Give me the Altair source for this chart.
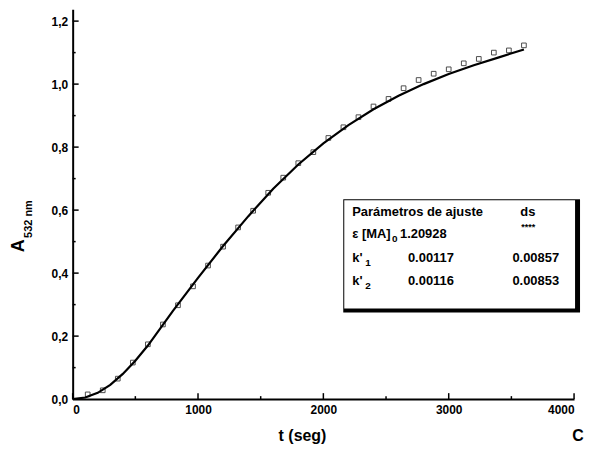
import altair as alt
import pandas as pd

# observed absorbance (squares)
t_obs = [120, 240, 360, 480, 600, 720, 840, 960, 1080, 1200, 1320, 1440, 1560, 1680, 1800,
         1920, 2040, 2160, 2280, 2400, 2520, 2640, 2760, 2880, 3000, 3120, 3240, 3360, 3480, 3600]
A_obs = [0.015, 0.028, 0.065, 0.116, 0.174, 0.237, 0.298, 0.358, 0.424, 0.484, 0.545, 0.598,
         0.655, 0.703, 0.749, 0.784, 0.829, 0.863, 0.895, 0.929, 0.953, 0.987, 1.013, 1.033,
         1.047, 1.066, 1.080, 1.100, 1.107, 1.123]

# fitted curve
t_fit = [0, 100, 200, 300, 400, 500, 600, 800, 1000, 1200, 1400, 1600, 1800, 2000, 2200,
         2400, 2600, 2800, 3000, 3200, 3400, 3600]
A_fit = [0.0, 0.005, 0.02, 0.045, 0.08, 0.122, 0.170, 0.28, 0.385, 0.486, 0.58, 0.668, 0.745,
         0.812, 0.87, 0.92, 0.963, 1.0, 1.032, 1.06, 1.085, 1.11]

y_major = [0.0, 0.2, 0.4, 0.6, 0.8, 1.0, 1.2]
y_minor = [0.1, 0.3, 0.5, 0.7, 0.9, 1.1]
x_major = [0, 1000, 2000, 3000, 4000]
x_minor = [500, 1500, 2500, 3500]

leg_col1 = ["Parámetros de ajuste", "ε [MA]", "k'", "k'"]
leg_sub1 = ["", "0", "1", "2"]
leg_col2 = ["", "1.20928", "0.00117", "0.00116"]
leg_col3 = ["ds", "", "0.00857", "0.00853"]
leg_stars = "****"

FONT = "Liberation Sans, Arial, sans-serif"

W, H = 504, 392
xs = alt.Scale(domain=[0, 4000], nice=False)
ys = alt.Scale(domain=[0, 1.238], nice=False)

fit_df = pd.DataFrame({"t": t_fit, "A": A_fit})
obs_df = pd.DataFrame({"t": t_obs, "A": A_obs})

line = alt.Chart(fit_df).mark_line(color="black", strokeWidth=2.2).encode(
    x=alt.X("t:Q", scale=xs,
            axis=alt.Axis(values=x_major, format="d", title=None, ticks=False, labelPadding=5,
                          labelFont=FONT, labelFontWeight="bold", labelFontSize=12,
                          labelColor="black", domainColor="black", domainWidth=2,
                          grid=False)),
    y=alt.Y("A:Q", scale=ys,
            axis=alt.Axis(values=y_major, title=None, ticks=False, labelPadding=5,
                          labelExpr="replace(format(datum.value, '.1f'), '.', ',')",
                          labelFont=FONT, labelFontWeight="bold", labelFontSize=12,
                          labelColor="black", domainColor="black", domainWidth=2,
                          grid=False)),
)

pts = alt.Chart(obs_df).mark_point(shape="square", filled=False, color="black",
                                   size=22, strokeWidth=1).encode(
    x=alt.X("t:Q", scale=xs), y=alt.Y("A:Q", scale=ys))

ytm = alt.Chart(pd.DataFrame({"v": y_major})).mark_rule(color="black", strokeWidth=1.5).encode(
    y=alt.Y("v:Q", scale=ys), x=alt.value(0), x2=alt.value(6))
ytn = alt.Chart(pd.DataFrame({"v": y_minor})).mark_rule(color="black", strokeWidth=1.5).encode(
    y=alt.Y("v:Q", scale=ys), x=alt.value(0), x2=alt.value(3))
xtm = alt.Chart(pd.DataFrame({"v": x_major})).mark_rule(color="black", strokeWidth=1.5).encode(
    x=alt.X("v:Q", scale=xs), y=alt.value(H), y2=alt.value(H - 6))
xtn = alt.Chart(pd.DataFrame({"v": x_minor})).mark_rule(color="black", strokeWidth=1.5).encode(
    x=alt.X("v:Q", scale=xs), y=alt.value(H), y2=alt.value(H - 3))

# legend box with shadow
shadow = alt.Chart(pd.DataFrame({"a": [0]})).mark_rect(color="black").encode(
    x=alt.value(272), x2=alt.value(510), y=alt.value(191), y2=alt.value(305))
box = alt.Chart(pd.DataFrame({"a": [0]})).mark_rect(color="white").encode(
    x=alt.value(273), x2=alt.value(505), y=alt.value(192), y2=alt.value(301))

row_y = [204, 226, 250, 273]
leg_df = pd.DataFrame({"c1": leg_col1, "c2": leg_col2, "c3": leg_col3,
                       "y": row_y,
                       "x2": [0, 329, 337, 337],
                       "x3": [450, 0, 442, 442]})

t1 = alt.Chart(leg_df).mark_text(font=FONT, fontWeight="bold", fontSize=13, align="left",
                                 baseline="middle", color="black").encode(
    text="c1:N", x=alt.value(281), y=alt.Y("y:Q", scale=None))
c2 = alt.Chart(leg_df).mark_text(font=FONT, fontWeight="bold", fontSize=13, align="left",
                                 baseline="middle", color="black").encode(
    text="c2:N", x=alt.X("x2:Q", scale=None), y=alt.Y("y:Q", scale=None))
c3 = alt.Chart(leg_df).mark_text(font=FONT, fontWeight="bold", fontSize=13, align="left",
                                 baseline="middle", color="black").encode(
    text="c3:N", x=alt.X("x3:Q", scale=None), y=alt.Y("y:Q", scale=None))
stars = alt.Chart(pd.DataFrame({"s": [leg_stars]})).mark_text(
    font=FONT, fontWeight="bold", fontSize=9, align="left", baseline="middle",
    color="black").encode(text="s:N", x=alt.value(451), y=alt.value(219))

sub_df = pd.DataFrame({"s": leg_sub1[1:], "y": [r + 5 for r in row_y[1:]],
                       "x": [321, 294, 294]})
subs = alt.Chart(sub_df).mark_text(font=FONT, fontWeight="bold", fontSize=10, align="left",
                                   baseline="middle", color="black").encode(
    text="s:N", x=alt.X("x:Q", scale=None), y=alt.Y("y:Q", scale=None))

# axis titles
ttl_df = pd.DataFrame({"txt": ["t (seg)", "C"], "x": [231, 508], "y": [429, 429]})
xtitle = alt.Chart(ttl_df).mark_text(font=FONT, fontWeight="bold", fontSize=16,
                                     color="black", baseline="middle").encode(
    text="txt:N", x=alt.X("x:Q", scale=None), y=alt.Y("y:Q", scale=None))

ya = alt.Chart(pd.DataFrame({"txt": ["A"]})).mark_text(
    font=FONT, fontWeight="bold", fontSize=18, angle=270, color="black",
    baseline="middle").encode(text="txt:N", x=alt.value(-54), y=alt.value(238))
ysub = alt.Chart(pd.DataFrame({"txt": ["532 nm"]})).mark_text(
    font=FONT, fontWeight="bold", fontSize=11, angle=270, color="black",
    baseline="middle").encode(text="txt:N", x=alt.value(-44), y=alt.value(211))

chart = alt.layer(line, pts, ytm, ytn, xtm, xtn, shadow, box, t1, c2, c3, stars, subs,
                  xtitle, ya, ysub).properties(
    width=W, height=H,
    background="white",
    autosize=alt.AutoSizeParams(type="none"),
    padding={"left": 65, "top": 0, "right": 12, "bottom": 50},
).configure_view(stroke=None)

chart.save("out.html", embed_options={"renderer": "svg", "actions": False})
